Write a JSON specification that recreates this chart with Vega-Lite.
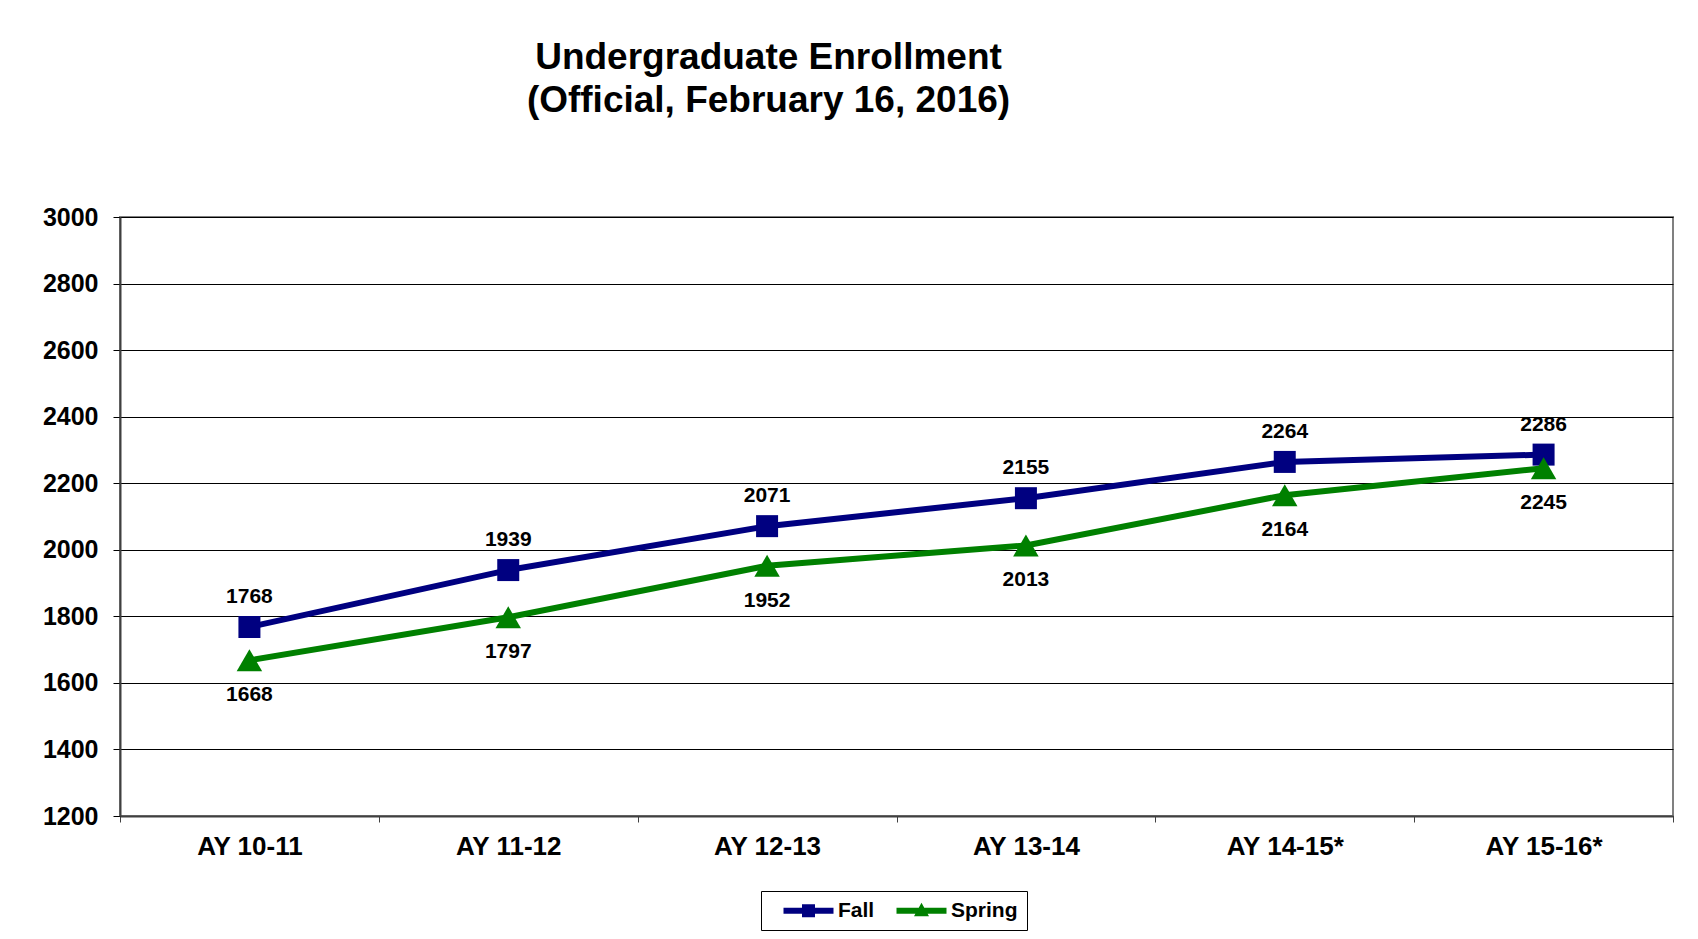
{
  "$schema": "https://vega.github.io/schema/vega-lite/v6.json",
  "autosize": {"type": "none"},
  "padding": {"left": 120, "top": 217, "right": 25, "bottom": 123},
  "width": 1553,
  "height": 599,
  "background": "white",
  "title": {
    "text": ["Undergraduate Enrollment", "(Official, February 16, 2016)"],
    "font": "Liberation Sans",
    "fontSize": 37,
    "fontWeight": "bold",
    "color": "black",
    "anchor": "middle",
    "dx": -128,
    "offset": 85,
    "lineHeight": 43
  },
  "data": {
    "values": [
      {"year": "AY 10-11", "series": "Fall", "value": 1768},
      {"year": "AY 11-12", "series": "Fall", "value": 1939},
      {"year": "AY 12-13", "series": "Fall", "value": 2071},
      {"year": "AY 13-14", "series": "Fall", "value": 2155},
      {"year": "AY 14-15*", "series": "Fall", "value": 2264},
      {"year": "AY 15-16*", "series": "Fall", "value": 2286},
      {"year": "AY 10-11", "series": "Spring", "value": 1668},
      {"year": "AY 11-12", "series": "Spring", "value": 1797},
      {"year": "AY 12-13", "series": "Spring", "value": 1952},
      {"year": "AY 13-14", "series": "Spring", "value": 2013},
      {"year": "AY 14-15*", "series": "Spring", "value": 2164},
      {"year": "AY 15-16*", "series": "Spring", "value": 2245}
    ]
  },
  "encoding": {
    "x": {
      "field": "year",
      "type": "ordinal",
      "sort": null,
      "scale": {"type": "band", "paddingInner": 0, "paddingOuter": 0},
      "axis": {
        "title": null,
        "labelAngle": 0,
        "tickBand": "extent",
        "labelFont": "Liberation Sans",
        "labelFontSize": 26,
        "labelFontWeight": "bold",
        "labelColor": "black",
        "labelPadding": 11,
        "tickSize": 6,
        "tickColor": "#404040",
        "tickWidth": 1,
        "domainColor": "#404040",
        "domainWidth": 2,
        "grid": false
      }
    },
    "y": {
      "field": "value",
      "type": "quantitative",
      "scale": {"domain": [1200, 3000], "nice": false, "zero": false},
      "axis": {
        "title": null,
        "format": "d",
        "values": [1200, 1400, 1600, 1800, 2000, 2200, 2400, 2600, 2800, 3000],
        "labelFont": "Liberation Sans",
        "labelFontSize": 25,
        "labelFontWeight": "bold",
        "labelColor": "black",
        "labelPadding": 15,
        "tickSize": 7,
        "tickColor": "black",
        "domainColor": "#404040",
        "domainWidth": 2,
        "grid": true,
        "gridColor": "black",
        "gridWidth": 1
      }
    }
  },
  "layer": [
    {
      "mark": {"type": "line", "strokeWidth": 6},
      "encoding": {
        "color": {
          "field": "series",
          "type": "nominal",
          "scale": {"domain": ["Fall", "Spring"], "range": ["#000080", "#008000"]},
          "legend": {
            "orient": "none",
            "legendX": 641,
            "legendY": 674,
            "direction": "horizontal",
            "title": null,
            "strokeColor": "black",
            "fillColor": "white",
            "padding": 9,
            "labelFont": "Liberation Sans",
            "labelFontSize": 21,
            "labelFontWeight": "bold",
            "labelColor": "black",
            "symbolSize": 400,
            "symbolOffset": 28,
            "labelOffset": 19,
            "columnPadding": 8,
            "encode": {
              "symbols": {
                "update": {
                  "shape": {"signal": "datum.value === 'Fall' ? 'M-2.5,-0.3 H2.5 V0.3 H-2.5 Z M-0.65,-0.65 H0.65 V0.65 H-0.65 Z' : 'M-2.5,-0.3 H2.5 V0.3 H-2.5 Z M0,-0.8 L0.75,0.55 L-0.75,0.55 Z'"},
                  "fill": {"signal": "datum.value === 'Fall' ? '#000080' : '#008000'"},
                  "stroke": {"value": "transparent"},
                  "strokeWidth": {"value": 0},
                  "opacity": {"value": 1}
                }
              }
            }
          }
        }
      }
    },
    {
      "transform": [{"filter": "datum.series === 'Fall'"}],
      "mark": {"type": "point", "shape": "square", "size": 484, "filled": true, "opacity": 1, "color": "#000080"}
    },
    {
      "transform": [{"filter": "datum.series === 'Spring'"}],
      "mark": {"type": "point", "shape": "triangle-up", "size": 650, "filled": true, "opacity": 1, "color": "#008000"}
    },
    {
      "transform": [{"filter": "datum.series === 'Fall'"}],
      "mark": {"type": "text", "font": "Liberation Sans", "fontSize": 21, "fontWeight": "bold", "color": "black", "baseline": "alphabetic", "dy": -24},
      "encoding": {"text": {"field": "value", "type": "quantitative", "format": "d"}}
    },
    {
      "transform": [{"filter": "datum.series === 'Spring'"}],
      "mark": {"type": "text", "font": "Liberation Sans", "fontSize": 21, "fontWeight": "bold", "color": "black", "baseline": "top", "dy": 24},
      "encoding": {"text": {"field": "value", "type": "quantitative", "format": "d"}}
    }
  ],
  "config": {
    "view": {"stroke": "#808080", "strokeWidth": 2}
  }
}
